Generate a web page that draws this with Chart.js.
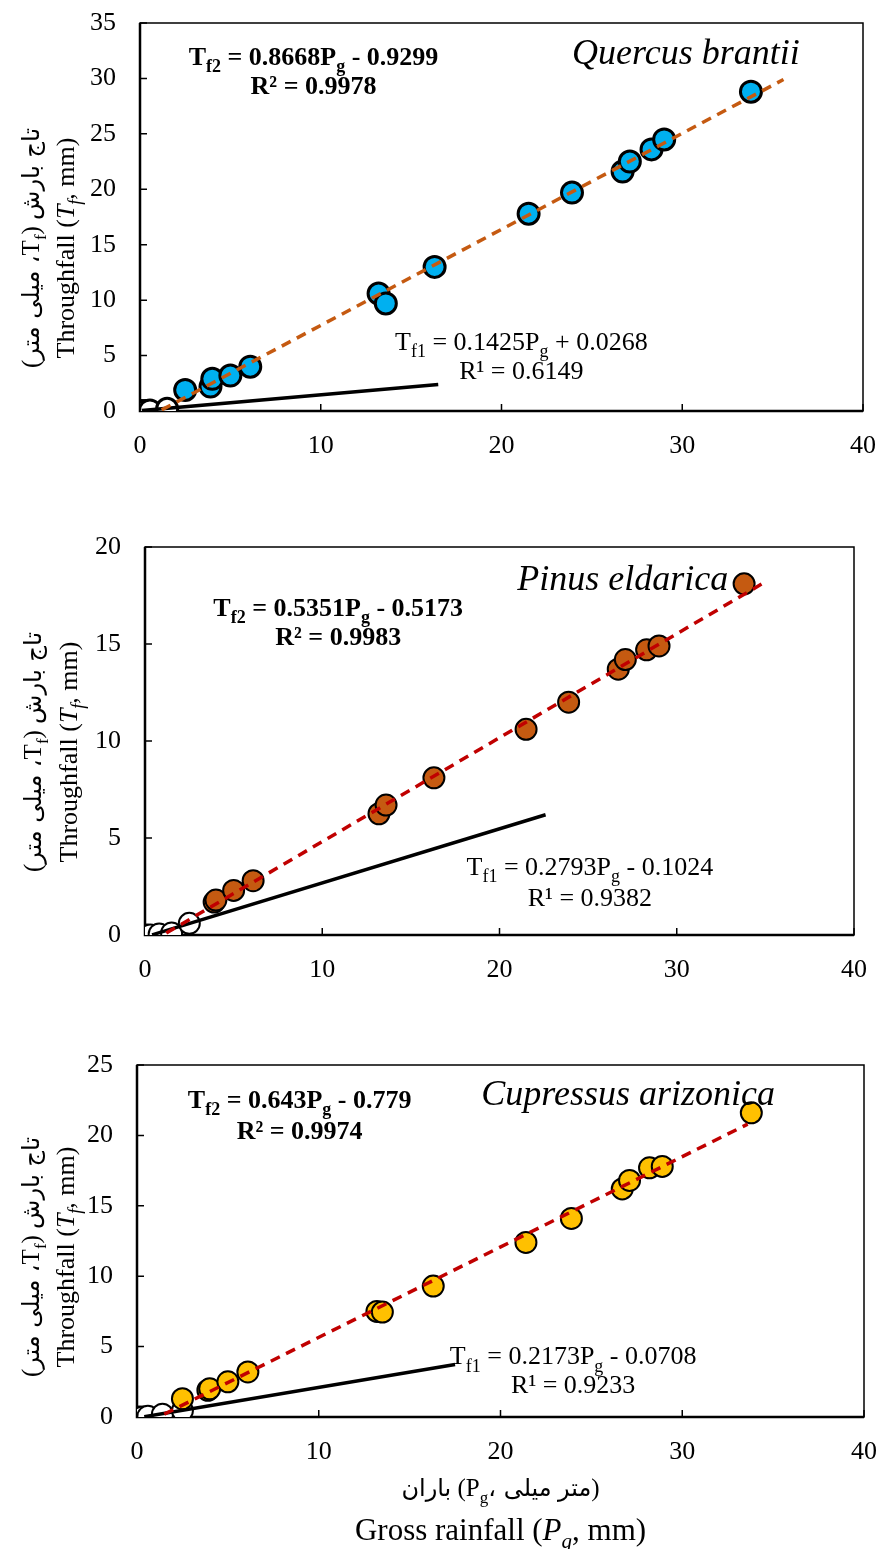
<!DOCTYPE html>
<html>
<head>
<meta charset="utf-8">
<script src="https://cdn.jsdelivr.net/npm/chart.js@4.4.1/dist/chart.umd.min.js"></script>
<style>
  body { margin: 0; background: #fff; width: 881px; height: 1549px; position: relative; overflow: hidden; }
  canvas { position: absolute; left: 0; }
</style>
</head>
<body>
<canvas id="quercus" width="881" height="471" style="top:0px"></canvas>
<canvas id="pinus" width="881" height="475" style="top:520px"></canvas>
<canvas id="cupressus" width="881" height="509" style="top:1040px"></canvas>
<script>
// Gross rainfall (Pg) vs throughfall (Tf)

// Quercus brantii
var quercusWhiteX = [0.05, 0.3, 0.55, 1.5];
var quercusWhiteY = [0.0, 0.0, 0.05, 0.2];
var quercusX = [2.5, 3.9, 4.0, 5.0, 6.1, 13.2, 13.6, 16.3, 21.5, 23.9, 26.7, 27.1, 28.3, 29.0, 33.8];
var quercusY = [1.9, 2.2, 2.9, 3.2, 4.0, 10.6, 9.7, 13.0, 17.8, 19.7, 21.6, 22.5, 23.6, 24.5, 28.8];
var quercusTf1 = [[0.1, 0.04], [16.5, 2.38]];
var quercusTf2 = [[1.2, 0.1], [35.6, 29.9]];

// Pinus eldarica
var pinusWhiteX = [0.05, 0.3, 0.8, 1.5, 2.5];
var pinusWhiteY = [0.0, 0.0, 0.05, 0.1, 0.6];
var pinusX = [3.9, 4.0, 5.0, 6.1, 13.2, 13.6, 16.3, 21.5, 23.9, 26.7, 27.1, 28.3, 29.0, 33.8];
var pinusY = [1.7, 1.8, 2.3, 2.8, 6.25, 6.7, 8.1, 10.6, 12.0, 13.7, 14.2, 14.7, 14.9, 18.1];
var pinusTf1 = [[0.4, 0.01], [22.6, 6.2]];
var pinusTf2 = [[1.2, 0.1], [34.9, 18.15]];

// Cupressus arizonica
var cupressusWhiteX = [0.05, 0.3, 0.6, 1.4, 2.5];
var cupressusWhiteY = [0.0, 0.0, 0.05, 0.2, 0.45];
var cupressusX = [2.5, 3.9, 4.0, 5.0, 6.1, 13.2, 13.5, 16.3, 21.4, 23.9, 26.7, 27.1, 28.2, 28.9, 33.8];
var cupressusY = [1.3, 1.9, 2.0, 2.5, 3.2, 7.5, 7.45, 9.3, 12.4, 14.1, 16.2, 16.8, 17.7, 17.8, 21.6];
var cupressusTf1 = [[0.4, 0.02], [17.5, 3.73]];
var cupressusTf2 = [[1.5, 0.2], [33.6, 20.8]];

var xTicks = [0, 10, 20, 30, 40];

var SERIF = '"Liberation Serif", "Times New Roman", serif';
var ARABIC = '"DejaVu Sans", "Noto Sans", sans-serif';

function segFont(style, size, bold) {
    var s = size;
    if (style == 'sub' || style == 'isub') s = Math.round(size * 0.68);
    if (style == 'ar') return Math.round(size * 0.95) + 'px ' + ARABIC;
    var it = (style == 'i' || style == 'isub') ? 'italic ' : '';
    var w = bold ? 'bold ' : '';
    return it + w + s + 'px ' + SERIF;
}

// draws a line of mixed text pieces, y is the vertical middle
function drawRich(ctx, segs, x, y, align, size, bold) {
    var widths = [], total = 0;
    segs.forEach(function (sg) {
        ctx.font = segFont(sg[1], size, bold);
        var w = ctx.measureText(sg[0]).width;
        widths.push(w);
        total += w;
    });
    var cx = x;
    if (align == 'center') cx = x - total / 2;
    if (align == 'right') cx = x - total;
    ctx.textAlign = 'left';
    ctx.textBaseline = 'alphabetic';
    ctx.fillStyle = '#000';
    var base = y + size * 0.34;
    segs.forEach(function (sg, i) {
        ctx.font = segFont(sg[1], size, bold);
        var dy = (sg[1] == 'sub' || sg[1] == 'isub') ? size * 0.28 : 0;
        ctx.fillText(sg[0], cx, base + dy);
        cx += widths[i];
    });
}

function toPoints(xs, ys) {
    return xs.map(function (v, i) { return { x: v, y: ys[i] }; });
}

function pairPoints(arr) {
    return arr.map(function (p) { return { x: p[0], y: p[1] }; });
}

var yTitleEn = [['Throughfall (', 'n'], ['T', 'i'], ['f', 'isub'], [', mm)', 'n']];
var yTitleFa = [['(', 'n'], ['میلی متر', 'ar'], [' ،', 'ar'], ['T', 'n'], ['f', 'sub'], [') ', 'n'], ['تاج بارش', 'ar']];

function makePanel(id, p) {
    var decor = {
        id: 'decor' + id,
        beforeDatasetsDraw: function (chart) {
            var ctx = chart.ctx, a = chart.chartArea;
            var xs = chart.scales.x, ys = chart.scales.y;
            ctx.save();
            ctx.strokeStyle = '#000';
            ctx.lineWidth = 1.5;
            ctx.strokeRect(a.left, a.top, a.right - a.left, a.bottom - a.top);
            ctx.lineWidth = 2.5;
            ctx.beginPath();
            ctx.moveTo(a.left, a.top);
            ctx.lineTo(a.left, a.bottom);
            ctx.lineTo(a.right, a.bottom);
            ctx.stroke();
            // inward tick marks
            ctx.lineWidth = 1.5;
            ctx.beginPath();
            xs.ticks.forEach(function (t) {
                var px = xs.getPixelForValue(t.value);
                ctx.moveTo(px, a.bottom);
                ctx.lineTo(px, a.bottom - 7);
            });
            ys.ticks.forEach(function (t) {
                var py = ys.getPixelForValue(t.value);
                ctx.moveTo(a.left, py);
                ctx.lineTo(a.left + 7, py);
            });
            ctx.stroke();
            ctx.restore();
        },
        afterDraw: function (chart) {
            var ctx = chart.ctx;
            var xs = chart.scales.x, ys = chart.scales.y;
            ctx.save();
            drawRich(ctx, p.eq2, xs.getPixelForValue(p.eq2At[0]), ys.getPixelForValue(p.eq2At[1]), 'center', 26, true);
            drawRich(ctx, p.r2, xs.getPixelForValue(p.eq2At[0]), ys.getPixelForValue(p.r2Y), 'center', 26, true);
            drawRich(ctx, p.eq1, xs.getPixelForValue(p.eq1At[0]), ys.getPixelForValue(p.eq1At[1]), 'center', 26, false);
            drawRich(ctx, p.r1, xs.getPixelForValue(p.eq1At[0]), ys.getPixelForValue(p.r1Y), 'center', 26, false);
            drawRich(ctx, [[p.species, 'i']], xs.getPixelForValue(p.speciesAt[0]), ys.getPixelForValue(p.speciesAt[1]), 'right', 36, false);
            // y axis titles
            ctx.save();
            ctx.translate(p.titleX[0], p.titleY);
            ctx.rotate(-Math.PI / 2);
            drawRich(ctx, yTitleEn, 0, 0, 'center', 26, false);
            ctx.restore();
            ctx.save();
            ctx.translate(p.titleX[1], p.titleY);
            ctx.rotate(-Math.PI / 2);
            drawRich(ctx, yTitleFa, 0, 0, 'center', 25, false);
            ctx.restore();
            if (p.xTitle) {
                var a = chart.chartArea;
                drawRich(ctx, [['باران', 'ar'], [' (', 'n'], ['P', 'n'], ['g', 'sub'], ['، ', 'ar'], ['میلی', 'ar'], [' ', 'n'], ['متر', 'ar'], [')', 'n']],
                    (a.left + a.right) / 2, a.bottom + 70, 'center', 25, false);
                drawRich(ctx, [['Gross rainfall (', 'n'], ['P', 'i'], ['g', 'isub'], [', mm)', 'n']],
                    (a.left + a.right) / 2, a.bottom + 112, 'center', 31, false);
            }
            ctx.restore();
        }
    };

    new Chart(document.getElementById(id).getContext('2d'), {
        type: 'scatter',
        data: {
            datasets: [{
                label: 'Tf2',
                data: pairPoints(p.tf2),
                showLine: true,
                pointRadius: 0,
                borderColor: p.dashColor,
                borderWidth: 3.5,
                borderDash: [10, 7],
                order: 0
            }, {
                label: 'Tf1',
                data: pairPoints(p.tf1),
                showLine: true,
                pointRadius: 0,
                borderColor: '#000',
                borderWidth: 3.5,
                order: 1
            }, {
                label: 'species',
                data: toPoints(p.x, p.y),
                pointRadius: 10.5,
                pointHoverRadius: 10.5,
                backgroundColor: p.color,
                borderColor: '#000',
                borderWidth: p.border,
                order: 2
            }, {
                label: 'small events',
                data: toPoints(p.whiteX, p.whiteY),
                pointRadius: 10.5,
                pointHoverRadius: 10.5,
                backgroundColor: '#fff',
                borderColor: '#000',
                borderWidth: p.border,
                order: 3
            }]
        },
        options: {
            responsive: false,
            animation: false,
            events: [],
            layout: { padding: { top: p.padTop, right: p.padRight, left: 0, bottom: 0 } },
            plugins: { legend: { display: false }, tooltip: { enabled: false } },
            scales: {
                x: {
                    type: 'linear',
                    min: 0, max: 40,
                    afterBuildTicks: function (scale) {
                        scale.ticks = xTicks.map(function (v) { return { value: v }; });
                    },
                    afterFit: function (scale) {
                        scale.height = p.xHeight;
                        scale.paddingLeft = 0;
                        scale.paddingRight = 0;
                    },
                    grid: { display: false, drawTicks: false },
                    border: { display: false },
                    ticks: { padding: 20, color: '#000', font: { family: SERIF, size: 26 }, maxRotation: 0 }
                },
                y: {
                    type: 'linear',
                    min: 0, max: p.yMax,
                    ticks: { stepSize: 5, padding: 24, color: '#000', font: { family: SERIF, size: 26 } },
                    afterFit: function (scale) {
                        scale.width = p.left;
                        scale.paddingTop = 0;
                        scale.paddingBottom = 0;
                    },
                    grid: { display: false, drawTicks: false },
                    border: { display: false }
                }
            }
        },
        plugins: [decor]
    });
}

makePanel('quercus', {
    whiteX: quercusWhiteX, whiteY: quercusWhiteY, x: quercusX, y: quercusY,
    tf1: quercusTf1, tf2: quercusTf2,
    color: '#00B0F0', dashColor: '#C55A11', border: 3,
    yMax: 35, left: 140, padTop: 23, padRight: 18, xHeight: 60,
    eq2: [['T', 'n'], ['f2', 'sub'], [' = 0.8668P', 'n'], ['g', 'sub'], [' - 0.9299', 'n']], eq2At: [9.6, 32.0],
    r2: [['R² = 0.9978', 'n']], r2Y: 29.4,
    eq1: [['T', 'n'], ['f1', 'sub'], [' = 0.1425P', 'n'], ['g', 'sub'], [' + 0.0268', 'n']], eq1At: [21.1, 6.3],
    r1: [['R¹ = 0.6149', 'n']], r1Y: 3.7,
    species: 'Quercus brantii', speciesAt: [36.5, 32.4],
    titleX: [65, 30], titleY: 248
});

makePanel('pinus', {
    whiteX: pinusWhiteX, whiteY: pinusWhiteY, x: pinusX, y: pinusY,
    tf1: pinusTf1, tf2: pinusTf2,
    color: '#C55A11', dashColor: '#C00000', border: 2,
    yMax: 20, left: 145, padTop: 27, padRight: 27, xHeight: 60,
    eq2: [['T', 'n'], ['f2', 'sub'], [' = 0.5351P', 'n'], ['g', 'sub'], [' - 0.5173', 'n']], eq2At: [10.9, 16.9],
    r2: [['R² = 0.9983', 'n']], r2Y: 15.4,
    eq1: [['T', 'n'], ['f1', 'sub'], [' = 0.2793P', 'n'], ['g', 'sub'], [' - 0.1024', 'n']], eq1At: [25.1, 3.56],
    r1: [['R¹ = 0.9382', 'n']], r1Y: 1.96,
    species: 'Pinus eldarica', speciesAt: [32.9, 18.4],
    titleX: [68, 32], titleY: 232
});

makePanel('cupressus', {
    whiteX: cupressusWhiteX, whiteY: cupressusWhiteY, x: cupressusX, y: cupressusY,
    tf1: cupressusTf1, tf2: cupressusTf2,
    color: '#FFC000', dashColor: '#C00000', border: 2,
    yMax: 25, left: 137, padTop: 25, padRight: 17, xHeight: 132,
    eq2: [['T', 'n'], ['f2', 'sub'], [' = 0.643P', 'n'], ['g', 'sub'], [' - 0.779', 'n']], eq2At: [8.95, 22.6],
    r2: [['R² = 0.9974', 'n']], r2Y: 20.4,
    eq1: [['T', 'n'], ['f1', 'sub'], [' = 0.2173P', 'n'], ['g', 'sub'], [' - 0.0708', 'n']], eq1At: [24.0, 4.36],
    r1: [['R¹ = 0.9233', 'n']], r1Y: 2.3,
    species: 'Cupressus arizonica', speciesAt: [35.1, 23.0],
    titleX: [65, 30], titleY: 217,
    xTitle: true
});
</script>
</body>
</html>
